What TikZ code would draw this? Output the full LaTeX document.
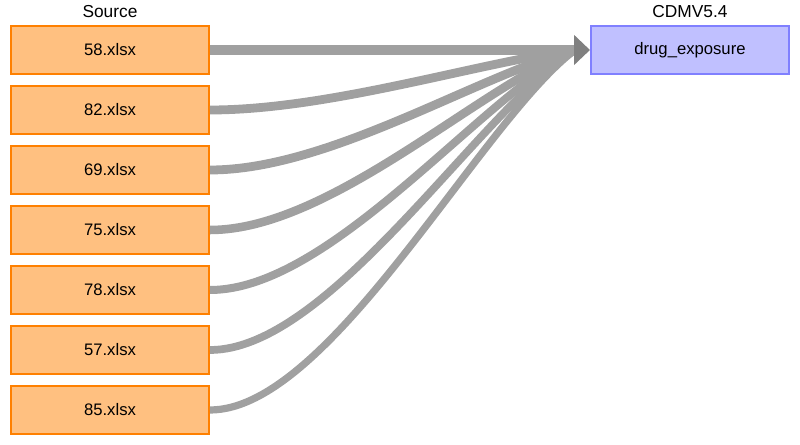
\documentclass[tikz,border=0pt]{standalone}
\usepackage{fontspec}
\setmainfont{Liberation Sans}
\usepackage{tikz}
\usetikzlibrary{arrows.meta,positioning,calc}
\definecolor{srcfill}{HTML}{FFC080}
\definecolor{srcline}{HTML}{FF8000}
\definecolor{cdmfill}{HTML}{C0C0FF}
\definecolor{cdmline}{HTML}{8080FF}
\definecolor{lnk}{HTML}{A0A0A0}
\definecolor{lnktip}{HTML}{808080}

\begin{document}
\begin{tikzpicture}[
    x=0.75pt, y=-0.75pt,
    src/.style={rectangle, draw=srcline, fill=srcfill, line width=1.5pt,
                minimum width=148.5pt, minimum height=36pt, inner sep=0pt,
                font=\fontsize{12.5}{14}\selectfont},
    cdm/.style={src, draw=cdmline, fill=cdmfill},
    ttl/.style={font=\fontsize{13}{15}\selectfont, inner sep=0pt},
    lnkline/.style={draw=lnk},
  ]
  \useasboundingbox (0,0) rectangle (800,445);

  % column titles
  \node[ttl] (tsrc) at (110,12) {Source};
  \node[ttl] (tcdm) at (690,12) {CDMV5.4};

  % source files, top to bottom
  \node[src] (s58) at (110,50)  {58.xlsx};
  \node[src] (s82) at (110,110) {82.xlsx};
  \node[src] (s69) at (110,170) {69.xlsx};
  \node[src] (s75) at (110,230) {75.xlsx};
  \node[src] (s78) at (110,290) {78.xlsx};
  \node[src] (s57) at (110,350) {57.xlsx};
  \node[src] (s85) at (110,410) {85.xlsx};

  % target table
  \node[cdm] (drug) at (690,50) {drug\_exposure};

  % all links merge at the base of one arrowhead
  \coordinate (mrg) at ($(drug.west)+(-15,0)$);

  \draw[lnkline, line width=6.6pt] (s82.east) .. controls +(120,0) and +(-95,12) .. (mrg);
  \draw[lnkline, line width=6.6pt] (s69.east) .. controls +(120,0) and +(-95,24) .. (mrg);
  \draw[lnkline, line width=6.4pt] (s75.east) .. controls +(120,0) and +(-95,36) .. (mrg);
  \draw[lnkline, line width=6pt]   (s78.east) .. controls +(120,0) and +(-95,48) .. (mrg);
  \draw[lnkline, line width=5.8pt] (s57.east) .. controls +(120,0) and +(-95,60) .. (mrg);
  \draw[lnkline, line width=5.4pt] (s85.east) .. controls +(120,0) and +(-95,72) .. (mrg);

  % straight link carries the arrowhead
  \draw[lnkline, line width=7.5pt,
        -{Triangle[length=12pt, width=22pt, color=lnktip]}] (s58.east) -- (drug.west);
\end{tikzpicture}
\end{document}
